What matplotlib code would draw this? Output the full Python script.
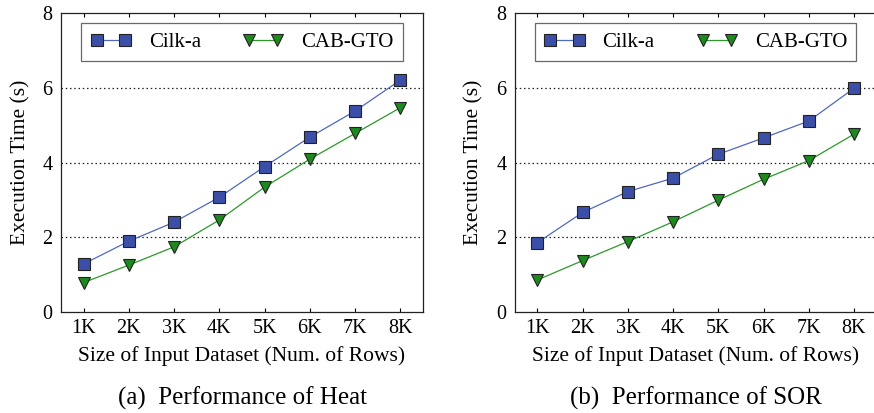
import matplotlib
matplotlib.use("Agg")
import matplotlib.pyplot as plt

plt.rcParams['font.family'] = ['Liberation Serif', 'DejaVu Serif']

sizes = ["1K", "2K", "3K", "4K", "5K", "6K", "7K", "8K"]
heat_cilk = [1.28, 1.89, 2.40, 3.07, 3.89, 4.68, 5.38, 6.21]
heat_cab = [0.78, 1.25, 1.74, 2.46, 3.34, 4.09, 4.78, 5.47]
sor_cilk = [1.85, 2.66, 3.22, 3.58, 4.22, 4.66, 5.11, 5.99]
sor_cab = [0.85, 1.37, 1.88, 2.41, 2.99, 3.55, 4.05, 4.76]
captions = ["(a)  Performance of Heat", "(b)  Performance of SOR"]

W, H = 874, 413
fig = plt.figure(figsize=(W / 100, H / 100), dpi=100)

# axes boxes in pixels: left, right, top, bottom
boxes = [(61, 423, 13.3, 311.7), (514.7, 876.6, 13.3, 311.7)]
data = [(heat_cilk, heat_cab), (sor_cilk, sor_cab)]

blue_face = "#3b4fa8"
blue_line = "#5068c0"
green_face = "#1d8a1d"
green_line = "#2a9a2a"

x = list(range(1, len(sizes) + 1))
for (l, r, t, b), (cilk, cab), cap in zip(boxes, data, captions):
    ax = fig.add_axes([l / W, 1 - b / H, (r - l) / W, (b - t) / H])
    ax.plot(x, cilk, color=blue_line, lw=0.9, marker='s', ms=8.3,
            mfc=blue_face, mec="#222222", mew=0.8, label="Cilk-a", zorder=3)
    ax.plot(x, cab, color=green_line, lw=0.9, marker='v', ms=9.3,
            mfc=green_face, mec="#222222", mew=0.8, label="CAB-GTO", zorder=3)
    ax.set_xlim(0.5, 8.5)
    ax.set_ylim(0, 8)
    ax.set_xticks(x)
    ax.set_xticklabels(sizes)
    ax.set_yticks([0, 2, 4, 6, 8])
    for yv in [2, 4, 6]:
        ax.axhline(yv, color="#222222", lw=0.9, ls=(0, (1.2, 2.2)), zorder=1)
    ax.tick_params(axis='x', direction='in', length=3, top=True, labelsize=14.5, pad=5, width=0.8)
    ax.tick_params(axis='y', length=0, labelsize=14.5, pad=6)
    for s in ax.spines.values():
        s.set_linewidth(0.9)
        s.set_color("#222222")
    ax.set_xlabel("Size of Input Dataset (Num. of Rows)", fontsize=15.5, labelpad=6)
    ax.set_ylabel("Execution Time (s)", fontsize=15.5, labelpad=9)
    leg = ax.legend(loc='upper center', bbox_to_anchor=(0.5, 0.967), ncol=2,
                    numpoints=2, fontsize=15, handlelength=1.95,
                    handletextpad=0.85, columnspacing=2.0, frameon=True,
                    fancybox=False, edgecolor="#444444", borderpad=0.45,
                    borderaxespad=0)
    leg.get_frame().set_linewidth(0.9)
    ax.text(0.5, -0.29, cap, transform=ax.transAxes, ha='center', va='center', fontsize=18)

fig.savefig("out.png", dpi=100)
